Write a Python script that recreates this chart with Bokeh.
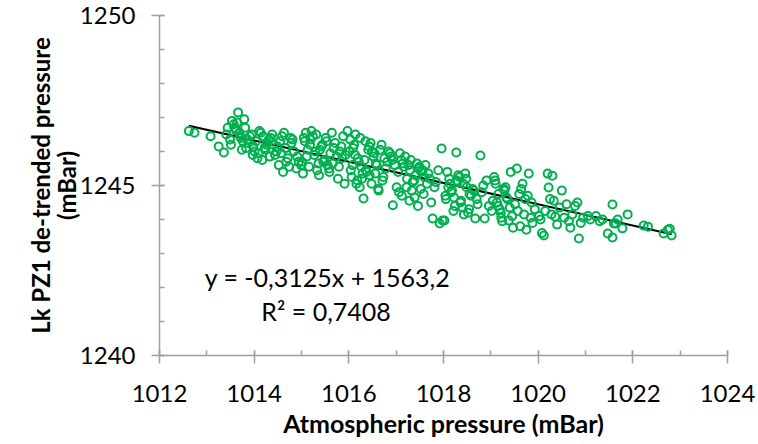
from bokeh.plotting import figure
from bokeh.models import Range1d, SingleIntervalTicker, Label, Title
from bokeh.embed import file_html
from bokeh.resources import INLINE

# ---- data ----
atm_pressure = [
    1012.62, 1012.74, 1013.08, 1013.25, 1013.36,
    1013.44, 1013.41, 1013.53, 1013.49, 1013.62, 1013.57, 1013.51, 1013.70, 1013.66, 1013.58,
    1013.76, 1013.64, 1013.69, 1013.83, 1013.72, 1013.61, 1013.88, 1013.79, 1013.95, 1013.74,
    1013.86, 1013.81, 1013.98, 1013.91, 1013.97,
    1014.04, 1014.11, 1014.01, 1014.19, 1014.07, 1014.26, 1014.14, 1014.09, 1014.31, 1014.22,
    1014.17, 1014.38, 1014.28, 1014.44, 1014.35, 1014.24, 1014.52, 1014.41, 1014.33, 1014.59,
    1014.47, 1014.61, 1014.55, 1014.68, 1014.49, 1014.74, 1014.63, 1014.57, 1014.81, 1014.71,
    1014.66, 1014.89, 1014.77, 1014.94, 1014.84, 1014.79, 1014.99, 1014.91,
    1015.05, 1015.01, 1015.13, 1015.09, 1015.03, 1015.18, 1015.11, 1015.24, 1015.16, 1015.29,
    1015.07, 1015.36, 1015.21, 1015.27, 1015.42, 1015.33, 1015.19, 1015.48, 1015.39, 1015.31,
    1015.55, 1015.44, 1015.37, 1015.61, 1015.51, 1015.46, 1015.68, 1015.58, 1015.53, 1015.74,
    1015.64, 1015.59, 1015.81, 1015.71, 1015.66, 1015.88, 1015.77, 1015.93, 1015.84, 1015.79,
    1015.97, 1015.91, 1015.86,
    1016.03, 1016.08, 1016.01, 1016.14, 1016.06, 1016.19, 1016.11, 1016.04, 1016.24, 1016.16,
    1016.21, 1016.09, 1016.29, 1016.13, 1016.31, 1016.35, 1016.26, 1016.18, 1016.41, 1016.33,
    1016.23, 1016.46, 1016.38, 1016.52, 1016.43, 1016.28, 1016.57, 1016.49, 1016.36, 1016.63,
    1016.54, 1016.44, 1016.69, 1016.59, 1016.48, 1016.75, 1016.66, 1016.56, 1016.81, 1016.71,
    1016.87, 1016.78, 1016.62, 1016.92, 1016.84, 1016.93, 1016.73, 1016.97, 1016.89,
    1017.04, 1017.11, 1017.01, 1017.17, 1017.08, 1017.23, 1017.14, 1017.06, 1017.29, 1017.19,
    1017.35, 1017.26, 1017.12, 1017.41, 1017.31, 1017.22, 1017.47, 1017.38, 1017.28, 1017.53,
    1017.44, 1017.33, 1017.59, 1017.49, 1017.39, 1017.65, 1017.56, 1017.46, 1017.71, 1017.62,
    1017.52, 1017.77, 1017.68, 1017.58, 1017.84, 1017.74, 1017.89, 1017.92, 1017.81, 1017.96,
    1017.98,
    1018.05, 1018.12, 1018.02, 1018.18, 1018.08, 1018.24, 1018.14, 1018.04, 1018.31, 1018.21,
    1018.10, 1018.27, 1018.37, 1018.28, 1018.16, 1018.43, 1018.34, 1018.22, 1018.49, 1018.40,
    1018.30, 1018.55, 1018.46, 1018.36, 1018.61, 1018.52, 1018.42, 1018.67, 1018.58, 1018.48,
    1018.72, 1018.78, 1018.64, 1018.54, 1018.84, 1018.87, 1018.70, 1018.91, 1018.96, 1018.81,
    1019.04, 1019.10, 1019.02, 1019.16, 1019.07, 1019.22, 1019.13, 1019.27, 1019.19, 1019.09,
    1019.33, 1019.24, 1019.15, 1019.29, 1019.38, 1019.21, 1019.42, 1019.35, 1019.47, 1019.31,
    1019.40, 1019.55, 1019.45, 1019.60, 1019.62, 1019.51, 1019.67, 1019.57, 1019.73, 1019.75,
    1019.64, 1019.80, 1019.70, 1019.86, 1019.88, 1019.78, 1019.93, 1019.84,
    1020.02, 1020.05, 1020.08, 1020.12, 1020.15, 1020.20, 1020.22, 1020.25, 1020.28, 1020.30,
    1020.33, 1020.36, 1020.40, 1020.45, 1020.50, 1020.55, 1020.60, 1020.65, 1020.68, 1020.72,
    1020.78, 1020.83, 1020.86, 1020.90, 1020.95,
    1021.05, 1021.10, 1021.22, 1021.30, 1021.36, 1021.47, 1021.57, 1021.57, 1021.60, 1021.64,
    1021.68, 1021.78, 1021.89,
    1022.23, 1022.32, 1022.65, 1022.74, 1022.78, 1022.82,
]

lk_pz1_pressure = [
    1246.60, 1246.55, 1246.45, 1246.15, 1245.97,
    1246.70, 1246.50, 1246.90, 1246.35, 1246.62, 1246.80, 1246.20, 1246.45, 1247.15, 1246.70,
    1246.30, 1246.85, 1246.55, 1246.10, 1246.40, 1246.65, 1246.25, 1246.95, 1246.50, 1246.05,
    1246.35, 1246.70, 1246.15, 1246.45, 1245.90,
    1246.30, 1246.60, 1246.00, 1246.45, 1245.80, 1246.20, 1246.55, 1245.95, 1246.35, 1246.10,
    1245.75, 1246.50, 1246.25, 1245.90, 1246.40, 1246.05, 1245.60, 1246.20, 1245.85, 1246.45,
    1246.00, 1245.40, 1246.30, 1245.70, 1246.15, 1245.55, 1246.55, 1245.95, 1246.35, 1245.80,
    1246.10, 1245.50, 1246.40, 1245.70, 1246.00, 1246.25, 1245.60, 1245.85,
    1246.40, 1245.70, 1246.05, 1246.55, 1245.35, 1246.20, 1245.85, 1246.45, 1245.55, 1246.00,
    1246.30, 1245.65, 1246.60, 1245.90, 1246.15, 1245.45, 1246.35, 1245.75, 1246.05, 1246.50,
    1245.60, 1246.20, 1245.30, 1245.95, 1246.40, 1245.70, 1246.10, 1245.50, 1246.30, 1245.85,
    1246.55, 1245.40, 1246.00, 1246.25, 1245.65, 1246.45, 1245.20, 1245.90, 1246.15, 1245.55,
    1246.60, 1245.05, 1245.80,
    1246.35, 1245.60, 1246.00, 1246.50, 1245.25, 1245.80, 1246.20, 1245.45, 1246.40, 1245.05,
    1245.70, 1246.10, 1245.35, 1245.90, 1244.62, 1246.30, 1245.55, 1245.15, 1246.05, 1245.75,
    1244.95, 1246.25, 1245.40, 1245.85, 1246.15, 1245.20, 1245.65, 1246.00, 1245.45, 1244.85,
    1245.95, 1245.30, 1246.20, 1245.60, 1245.05, 1245.80, 1246.05, 1245.35, 1245.70, 1245.15,
    1245.95, 1245.50, 1244.90, 1245.75, 1246.00, 1244.42, 1245.25, 1245.60, 1245.85,
    1245.40, 1245.75, 1244.95, 1245.55, 1245.95, 1245.20, 1245.65, 1244.80, 1245.45, 1245.85,
    1245.10, 1245.60, 1244.70, 1245.30, 1245.75, 1244.95, 1245.50, 1245.15, 1244.55, 1245.40,
    1245.65, 1244.85, 1245.25, 1245.55, 1244.65, 1245.05, 1245.45, 1244.40, 1245.20, 1245.60,
    1244.90, 1244.03, 1245.35, 1244.75, 1245.10, 1244.50, 1245.45, 1243.88, 1244.95, 1246.09,
    1243.97,
    1244.60, 1245.20, 1243.97, 1244.85, 1245.40, 1244.40, 1245.05, 1244.70, 1245.30, 1244.25,
    1244.95, 1245.97, 1244.55, 1245.15, 1244.80, 1244.15, 1245.25, 1244.65, 1244.95, 1244.35,
    1245.10, 1244.75, 1245.35, 1244.50, 1244.90, 1244.20, 1245.05, 1244.03, 1244.70, 1245.20,
    1244.45, 1245.88, 1244.85, 1244.30, 1245.00, 1244.03, 1244.60, 1245.15, 1244.40, 1244.80,
    1244.55, 1245.05, 1244.25, 1244.75, 1245.25, 1244.05, 1244.50, 1244.90, 1244.30, 1245.15,
    1244.65, 1243.95, 1244.40, 1244.85, 1243.97, 1244.20, 1245.40, 1244.60, 1243.76, 1244.95,
    1244.35, 1245.50, 1244.10, 1244.75, 1243.80, 1244.45, 1245.05, 1244.25, 1244.60, 1243.70,
    1244.90, 1245.35, 1244.15, 1244.50, 1243.90, 1244.70, 1244.30, 1244.05,
    1244.10, 1244.00, 1243.60, 1243.53, 1244.25, 1245.35, 1244.94, 1244.60, 1244.15, 1245.29,
    1244.55, 1244.08, 1243.85, 1244.35, 1244.85, 1244.05, 1244.45, 1243.95, 1243.76, 1244.15,
    1244.40, 1244.50, 1243.44, 1243.90, 1244.05,
    1244.10, 1244.00, 1244.10, 1243.95, 1244.00, 1243.59, 1243.47, 1244.44, 1243.88, 1243.88,
    1244.00, 1243.74, 1244.15,
    1243.82, 1243.79, 1243.59, 1243.70, 1243.73, 1243.53,
]

trend_slope = -0.3125
trend_intercept = 1563.2
equation_text = "y = -0,3125x + 1563,2"
r2_text = "R² = 0,7408"

x_title = "Atmospheric pressure (mBar)"
y_title_line1 = "Lk PZ1 de-trended pressure"
y_title_line2 = "(mBar)"

FONT = "Lato"
GREEN = "#00B050"
AXIS_GRAY = "#A0A0A0"

p = figure(width=758, height=444, output_backend="svg", toolbar_location=None,
           x_range=Range1d(1012, 1024), y_range=Range1d(1240, 1250),
           min_border_left=159, min_border_right=31, min_border_top=15, min_border_bottom=89)
p.outline_line_color = None
p.xgrid.visible = False
p.ygrid.visible = False
p.background_fill_color = "white"
p.border_fill_color = "white"

# trend line from data extent
xmin, xmax = min(atm_pressure), max(atm_pressure)
p.line([xmin, xmax], [trend_slope * xmin + trend_intercept, trend_slope * xmax + trend_intercept],
       line_color="black", line_width=2)

p.scatter(atm_pressure, lk_pz1_pressure, marker="circle", size=8,
          fill_color=None, line_color=GREEN, line_width=2)

# axes
p.xaxis.ticker = SingleIntervalTicker(interval=2, num_minor_ticks=2)
p.yaxis.ticker = SingleIntervalTicker(interval=5, num_minor_ticks=5)
for ax in (p.xaxis[0], p.yaxis[0]):
    ax.axis_line_color = AXIS_GRAY
    ax.axis_line_width = 1.5
    ax.major_tick_line_color = AXIS_GRAY
    ax.major_tick_line_width = 1.5
    ax.minor_tick_line_color = AXIS_GRAY
    ax.minor_tick_line_width = 1.5
    ax.major_tick_in = 5
    ax.major_tick_out = 8
    ax.minor_tick_in = 5
    ax.minor_tick_out = 0
    ax.major_label_text_font = FONT
    ax.major_label_text_font_size = "24px"
    ax.major_label_text_color = "black"

p.xaxis.major_label_standoff = 21
p.yaxis.major_label_standoff = 16
p.xaxis.axis_label = x_title
p.xaxis.axis_label_text_font = FONT
p.xaxis.axis_label_text_font_style = "bold"
p.xaxis.axis_label_text_font_size = "25px"
p.xaxis.axis_label_text_color = "black"
p.xaxis.axis_label_standoff = 3

p.add_layout(Title(text=y_title_line2, align="center", text_font=FONT, text_font_size="24px",
                   text_font_style="bold", text_color="black", standoff=-9), "left")
p.add_layout(Title(text=y_title_line1, align="center", text_font=FONT, text_font_size="24px",
                   text_font_style="bold", text_color="black", standoff=0), "left")

p.add_layout(Label(x=1015.55, y=1242.32, text=equation_text, text_align="center",
                   text_baseline="middle", text_font=FONT, text_font_size="25px", text_color="black"))
p.add_layout(Label(x=1015.52, y=1241.32, text=r2_text, text_align="center",
                   text_baseline="middle", text_font=FONT, text_font_size="25px", text_color="black"))

open("out.html", "w").write(file_html(p, INLINE))
